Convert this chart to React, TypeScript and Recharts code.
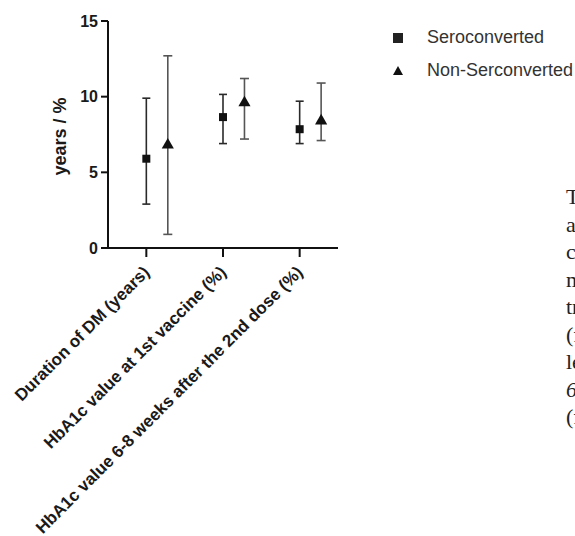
import React from "react";
import { ScatterChart, Scatter, XAxis, YAxis, ZAxis, ErrorBar, Label } from "recharts";

if (typeof document !== "undefined") document.body.style.margin = "0";

const categories = [
  "Duration of DM (years)",
  "HbA1c value at 1st vaccine (%)",
  "HbA1c value 6-8 weeks after the 2nd dose (%)",
];

// mean, lower and upper ends of the error bars
const seroMean = [5.9, 8.65, 7.85];
const seroLow = [2.9, 6.9, 6.9];
const seroHigh = [9.9, 10.15, 9.7];

const nonMean = [6.8, 9.6, 8.4];
const nonLow = [0.9, 7.2, 7.1];
const nonHigh = [12.7, 11.2, 10.9];

const yTicks = [0, 5, 10, 15];

// fragments of the page text cut off at the right edge
const sideText = ["T", "a", "c", "m", "tr", "(f", "le", "6", "(f"];

const DODGE = 0.28;
const SANS = "'Liberation Sans', Arial, sans-serif";

const seroData = categories.map((c, i) => ({
  x: i,
  y: seroMean[i],
  err: [seroMean[i] - seroLow[i], seroHigh[i] - seroMean[i]],
}));

const nonData = categories.map((c, i) => ({
  x: i + DODGE,
  y: nonMean[i],
  err: [nonMean[i] - nonLow[i], nonHigh[i] - nonMean[i]],
}));

function CategoryTick({ x, y, payload }: any) {
  return (
    <g transform={`translate(${x},${y + 10})`}>
      <text
        x={0}
        y={0}
        dy="0.35em"
        textAnchor="end"
        transform="rotate(-45)"
        fontSize={17}
        fontWeight="bold"
        fill="#1a1a1a"
        fontFamily={SANS}
      >
        {categories[payload.value]}
      </text>
    </g>
  );
}

function YLabel({ viewBox }: any) {
  const cx = viewBox.x + 18;
  const cy = viewBox.y + viewBox.height / 2 + 2;
  return (
    <text
      x={cx}
      y={cy}
      textAnchor="middle"
      transform={`rotate(-90, ${cx}, ${cy})`}
      fontSize={18}
      fontWeight="bold"
      fill="#1a1a1a"
      fontFamily={SANS}
    >
      years / %
    </text>
  );
}

export default function App() {
  return (
    <div style={{ position: "relative", width: 575, height: 536, overflow: "hidden", background: "#fff" }}>
      <ScatterChart width={575} height={536} margin={{ top: 21, right: 237, bottom: 8, left: 48 }}>
        <XAxis
          type="number"
          dataKey="x"
          domain={[-0.5, 2.5]}
          ticks={[0, 1, 2]}
          allowDataOverflow
          interval={0}
          height={280}
          tickSize={9}
          stroke="#111"
          strokeWidth={2}
          tick={<CategoryTick />}
        />
        <YAxis
          type="number"
          dataKey="y"
          domain={[0, 15]}
          ticks={yTicks}
          allowDataOverflow
          width={60}
          tickSize={7}
          tickMargin={3}
          stroke="#111"
          strokeWidth={2}
          tick={{ fontSize: 16, fontWeight: "bold", fill: "#1a1a1a", fontFamily: SANS }}
        >
          <Label content={<YLabel />} />
        </YAxis>
        <ZAxis zAxisId="sq" range={[90, 90]} />
        <ZAxis zAxisId="tri" range={[55, 55]} />
        <Scatter
          name="Seroconverted"
          data={seroData}
          zAxisId="sq"
          shape="square"
          fill="#111"
          isAnimationActive={false}
        >
          <ErrorBar dataKey="err" direction="y" width={4} stroke="#2a2a2a" strokeWidth={1.6} />
        </Scatter>
        <Scatter
          name="Non-Serconverted"
          data={nonData}
          zAxisId="tri"
          shape="triangle"
          fill="#111"
          isAnimationActive={false}
        >
          <ErrorBar dataKey="err" direction="y" width={4.5} stroke="#555" strokeWidth={1.6} />
        </Scatter>
      </ScatterChart>

      <div style={{ position: "absolute", left: 392, top: 21, fontFamily: SANS, fontSize: 18, color: "#333" }}>
        {[
          { label: "Seroconverted", type: "square" },
          { label: "Non-Serconverted", type: "triangle" },
        ].map((item) => (
          <div key={item.label} style={{ display: "flex", alignItems: "center", height: 33, whiteSpace: "nowrap" }}>
            <svg width={12} height={12} style={{ marginRight: 23 }}>
              {item.type === "square" ? (
                <rect x={1} y={1} width={10} height={10} fill="#222" />
              ) : (
                <polygon points="6,1 11,10 1,10" fill="#111" />
              )}
            </svg>
            <span>{item.label}</span>
          </div>
        ))}
      </div>

      <div
        style={{
          position: "absolute",
          left: 566,
          top: 183,
          fontFamily: "'Liberation Serif', 'Times New Roman', serif",
          fontSize: 22,
          lineHeight: "27.5px",
          color: "#222",
          whiteSpace: "nowrap",
        }}
      >
        {sideText.map((t, i) => (
          <div key={i}>{t === "6" ? <i>{t}</i> : t}</div>
        ))}
      </div>
    </div>
  );
}
